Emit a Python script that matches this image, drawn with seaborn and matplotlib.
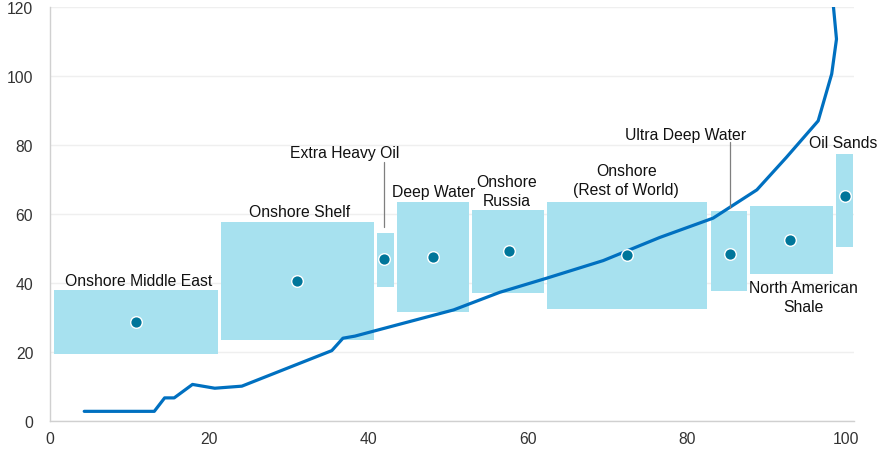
import matplotlib
matplotlib.use("Agg")
import matplotlib.pyplot as plt
import seaborn as sns
import pandas as pd

###
### DATA
###

# resource types: box spans (x = cumulative share, y = breakeven range) and mid points
names = ['Onshore Middle East', 'Onshore Shelf', 'Extra Heavy Oil', 'Deep Water',
         'Onshore\nRussia', 'Onshore\n(Rest of World)', 'Ultra Deep Water',
         'North American\nShale', 'Oil Sands']
x_left = [0.5, 21.5, 41.1, 43.6, 53.0, 62.4, 83.0, 87.9, 98.7]
x_right = [21.1, 40.7, 43.2, 52.6, 62.1, 82.5, 87.6, 98.4, 100.9]
y_low = [19.3, 23.6, 38.9, 31.7, 37.2, 32.6, 37.7, 42.7, 50.5]
y_high = [38.0, 57.7, 54.5, 63.5, 61.2, 63.5, 60.9, 62.3, 77.4]
dot_x = [10.8, 31.0, 42.0, 48.1, 57.6, 72.5, 85.4, 92.9, 99.9]
dot_y = [28.7, 40.7, 46.9, 47.6, 49.2, 48.1, 48.4, 52.5, 65.1]

# label anchor points
label_x = [11.1, 31.3, 37.0, 48.2, 57.4, 72.4, 79.9, 94.6, 99.6]
label_y = [40.6, 60.6, 77.7, 66.5, 66.7, 69.8, 83.0, 35.9, 80.6]

# leader lines for the two narrow boxes
leader_x = [42.0, 85.4]
leader_top = [75.1, 80.9]
leader_bottom = [56.2, 61.7]

# cost curve
curve_x = [4.3, 13.1, 14.4, 15.6, 17.9, 20.7, 24.1, 35.4, 36.8, 38.3, 44.0, 50.7,
           56.5, 62.4, 69.5, 76.6, 83.3, 88.8, 92.5, 96.5, 98.2, 98.8, 98.4]
curve_y = [2.8, 2.8, 6.7, 6.7, 10.6, 9.5, 10.1, 20.4, 24.0, 24.6, 28.1, 32.2,
           37.3, 41.4, 46.5, 53.2, 58.8, 67.0, 76.4, 87.0, 100.6, 110.7, 120.5]

x_ticks = [0, 20, 40, 60, 80, 100]
y_ticks = [0, 20, 40, 60, 80, 100, 120]

###
### PLOT
###

sns.set_style('white')
plt.rcParams['font.family'] = ['Liberation Sans', 'DejaVu Sans']

fig = plt.figure(figsize=(8.83, 4.56), dpi=100)
ax = fig.add_axes([50 / 883, 34 / 456, 804 / 883, 414 / 456])

# boxes
widths = [r - l for l, r in zip(x_left, x_right)]
heights = [h - l for l, h in zip(y_low, y_high)]
ax.bar(x_left, heights, width=widths, bottom=y_low, align='edge',
       color='#a7e1ef', edgecolor='none', zorder=2, clip_on=False)

# cost curve
curve_df = pd.DataFrame({'x': curve_x, 'y': curve_y})
sns.lineplot(data=curve_df, x='x', y='y', sort=False, estimator=None,
             color='#0070c0', lw=2.3, ax=ax, zorder=3)

# mid points
dots_df = pd.DataFrame({'x': dot_x, 'y': dot_y})
sns.scatterplot(data=dots_df, x='x', y='y', color='#00769a', s=70,
                edgecolor='white', linewidth=1, ax=ax, zorder=4, clip_on=False)

# labels
for name, lx, ly in zip(names, label_x, label_y):
    ax.text(lx, ly, name, ha='center', va='center', fontsize=11.3,
            color='#111111', linespacing=1.3, zorder=5)
for lx, lt, lb in zip(leader_x, leader_top, leader_bottom):
    ax.plot([lx, lx], [lb, lt], color='#7f7f7f', lw=0.9, zorder=5)

# axes styling
ax.set_xlim(0, 101)
ax.set_ylim(0, 120)
ax.set_xticks(x_ticks)
ax.set_yticks(y_ticks)
ax.set_xlabel('')
ax.set_ylabel('')
ax.yaxis.grid(True, color='#efefef', lw=1, zorder=0)
ax.set_axisbelow(True)
for side in ['top', 'right']:
    ax.spines[side].set_visible(False)
for side in ['left', 'bottom']:
    ax.spines[side].set_color('#d0d0d0')
    ax.spines[side].set_linewidth(1)
ax.tick_params(axis='both', colors='#d0d0d0', labelcolor='#333333',
               labelsize=11.3, length=4, width=1, direction='out')
ax.tick_params(axis='y', pad=8)

fig.savefig('out.png', dpi=100)
